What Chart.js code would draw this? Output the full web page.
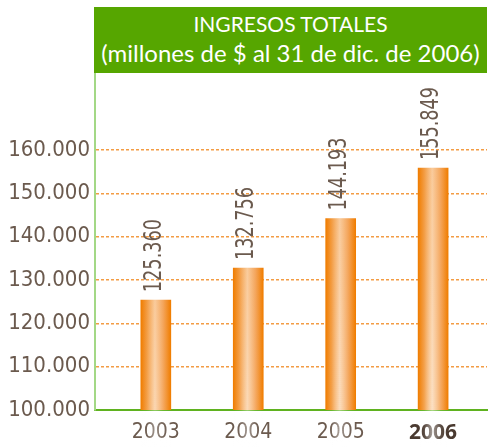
<!DOCTYPE html>
<html>
<head>
<meta charset="utf-8">
<script src="https://cdn.jsdelivr.net/npm/chart.js@4.4.1/dist/chart.umd.min.js"></script>
<style>
  body { margin: 0; background: #fff; }
  #wrap { position: relative; width: 488px; height: 447px; }
  #head {
    position: absolute; left: 94px; top: 7px; width: 393px; height: 66px;
    background: #56a600; color: #fff; text-align: center;
    font-family: Lato, 'Open Sans', sans-serif;
    padding-top: 3px; box-sizing: border-box;
  }
  #head .l1 { font-size: 21px; line-height: 28px; }
  #head .l2 { font-size: 24px; line-height: 30px; }
</style>
</head>
<body>
<div id="wrap">
  <canvas id="ingresosChart"></canvas>
  <div id="head"><div class="l1">INGRESOS TOTALES</div><div class="l2">(millones de $ al 31 de dic. de 2006)</div></div>
</div>
<script>
var years = [2003, 2004, 2005, 2006];
var ingresos = [125360, 132756, 144193, 155849];
var yTicks = [100000, 110000, 120000, 130000, 140000, 150000, 160000];

var txtColor = '#6b5a4e';
var narrow = "'Liberation Sans Narrow', 'DejaVu Sans Condensed', sans-serif";

function miles(v) {
    return String(v).replace(/\B(?=(\d{3})+(?!\d))/g, '.');
}

// bars: orange edges, peach centre; a white streak that gets stronger toward the base
var barShade = {
    id: 'barShade',
    beforeDatasetsDraw: function (chart) {
        var c = chart.ctx;
        chart.getDatasetMeta(0).data.forEach(function (bar) {
            var half = bar.width / 2;
            var g = c.createLinearGradient(bar.x - half, 0, bar.x + half, 0);
            g.addColorStop(0, '#f07d00');
            g.addColorStop(0.2, '#f39a3e');
            g.addColorStop(0.47, '#f9c692');
            g.addColorStop(0.75, '#f4a255');
            g.addColorStop(1, '#f07d00');
            bar.options.backgroundColor = g;
        });
    },
    afterDatasetsDraw: function (chart) {
        var c = chart.ctx;
        chart.getDatasetMeta(0).data.forEach(function (bar) {
            var half = bar.width / 2;
            var top = bar.y, bottom = bar.base;
            var w = c.createLinearGradient(bar.x - half, 0, bar.x + half, 0);
            w.addColorStop(0, 'rgba(255,255,255,0)');
            w.addColorStop(0.2, 'rgba(255,255,255,0.15)');
            w.addColorStop(0.47, 'rgba(255,255,255,0.95)');
            w.addColorStop(0.75, 'rgba(255,255,255,0.2)');
            w.addColorStop(1, 'rgba(255,255,255,0)');
            c.save();
            c.fillStyle = w;
            for (var y = top; y < bottom; y += 2) {
                var t = (y - top) / (bottom - top);
                c.globalAlpha = Math.min(1, 0.1 + 1.1 * t);
                c.fillRect(bar.x - half, y, bar.width, Math.min(2, bottom - y));
            }
            c.restore();
        });
    }
};

var valueLabels = {
    id: 'valueLabels',
    afterDatasetsDraw: function (chart) {
        var ctx = chart.ctx;
        var meta = chart.getDatasetMeta(0);
        meta.data.forEach(function (bar, i) {
            ctx.save();
            ctx.translate(bar.x + 5, bar.y - 8);
            ctx.rotate(-Math.PI / 2);
            ctx.scale(0.82, 1);
            ctx.font = '24px ' + narrow;
            ctx.fillStyle = txtColor;
            ctx.textAlign = 'left';
            ctx.textBaseline = 'alphabetic';
            ctx.fillText(miles(ingresos[i]), 0, 0);
            ctx.restore();
        });
    }
};

var ctx = document.getElementById('ingresosChart').getContext('2d');
new Chart(ctx, {
    type: 'bar',
    data: {
        datasets: [{
            data: years.map(function (y, i) { return { x: y, y: ingresos[i] }; }),
            backgroundColor: function () { return '#f07d00'; },
            borderWidth: 0,
            barThickness: 30
        }]
    },
    options: {
        responsive: true,
        maintainAspectRatio: false,
        animation: false,
        layout: { padding: { top: 73, right: 1, left: 0, bottom: 0 } },
        plugins: {
            legend: { display: false },
            tooltip: { enabled: false }
        },
        scales: {
            x: {
                type: 'linear',
                offset: false,
                min: 2002.342,
                max: 2006.583,
                z: 1,
                grid: { display: false, drawTicks: false, offset: false },
                border: { color: '#5fb21f', width: 2 },
                afterBuildTicks: function (scale) {
                    scale.ticks = years.map(function (v) { return { value: v }; });
                },
                afterFit: function (scale) { scale.height = 37; },
                ticks: {
                    padding: 10,
                    color: function (c) { return c.tick && c.tick.value === 2006 ? '#4a3a30' : txtColor; },
                    font: function (c) {
                        if (c.tick && c.tick.value === 2006) return { family: "'Open Sans', sans-serif", size: 21, weight: 'bold' };
                        return { family: narrow, size: 21 };
                    },
                    callback: function (v) { return String(v); }
                }
            },
            y: {
                min: 100000,
                max: 177800,
                z: 1,
                grid: {
                    drawTicks: false,
                    color: function (c) { return c.tick && c.tick.value > 100000 ? '#f39c44' : 'rgba(0,0,0,0)'; },
                    lineWidth: 1.5
                },
                border: { color: '#a3d886', width: 2, dash: [3, 2] },
                afterBuildTicks: function (scale) {
                    scale.ticks = yTicks.map(function (v) { return { value: v }; });
                },
                afterFit: function (scale) { scale.width = 95; },
                ticks: {
                    padding: 5,
                    color: txtColor,
                    font: { family: narrow, size: 22 },
                    callback: function (v) { return miles(v); }
                }
            }
        }
    },
    plugins: [barShade, valueLabels]
});
</script>
</body>
</html>
